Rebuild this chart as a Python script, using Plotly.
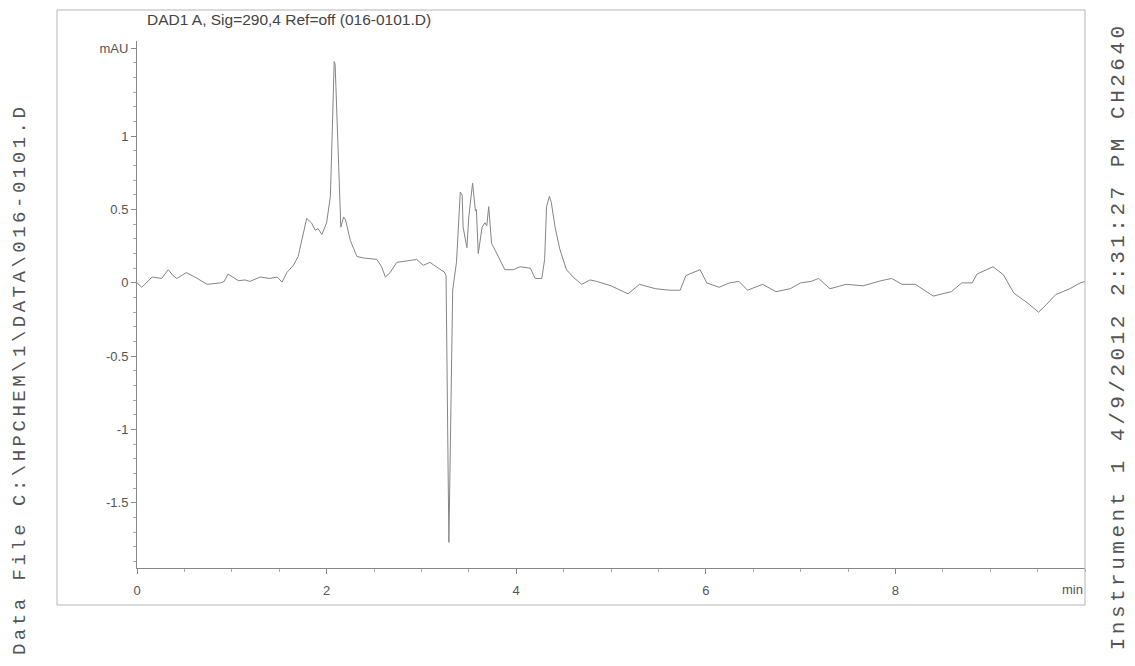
import plotly.graph_objects as go

# Retention time (min) and signal (mAU)
time_min = [0.00, 0.05, 0.16, 0.26, 0.33, 0.38, 0.42, 0.52, 0.61, 0.74, 0.88, 0.92, 0.96, 1.01,
            1.07, 1.14, 1.19, 1.30, 1.40, 1.48, 1.53, 1.58, 1.65, 1.70, 1.74, 1.79, 1.84, 1.88,
            1.91, 1.95, 2.00, 2.04, 2.06, 2.08, 2.09, 2.11, 2.13, 2.15, 2.18, 2.20, 2.25, 2.32,
            2.39, 2.53, 2.58, 2.62, 2.67, 2.74, 2.85, 2.95, 3.02, 3.09, 3.18, 3.24, 3.26, 3.29,
            3.33, 3.37, 3.41, 3.43, 3.44, 3.48, 3.50, 3.54, 3.57, 3.58, 3.60, 3.64, 3.67, 3.69,
            3.71, 3.74, 3.78, 3.83, 3.88, 3.97, 4.04, 4.15, 4.20, 4.27, 4.30, 4.32, 4.35, 4.37,
            4.41, 4.46, 4.53, 4.60, 4.69, 4.78, 4.85, 5.00, 5.18, 5.30, 5.47, 5.62, 5.73, 5.79,
            5.94, 6.01, 6.14, 6.25, 6.35, 6.44, 6.60, 6.74, 6.89, 7.00, 7.11, 7.19, 7.31, 7.48,
            7.66, 7.85, 7.96, 8.07, 8.21, 8.40, 8.59, 8.70, 8.81, 8.86, 9.03, 9.14, 9.25, 9.40,
            9.51, 9.59, 9.69, 9.84, 9.95, 10.00]
signal_mau = [0.00, -0.03, 0.04, 0.03, 0.09, 0.05, 0.03, 0.07, 0.04, -0.01, 0.00, 0.01, 0.06, 0.04,
              0.015, 0.02, 0.01, 0.04, 0.03, 0.04, 0.005, 0.07, 0.12, 0.18, 0.29, 0.44, 0.41, 0.36,
              0.37, 0.33, 0.41, 0.59, 1.04, 1.51, 1.49, 1.09, 0.67, 0.38, 0.45, 0.43, 0.29, 0.18,
              0.17, 0.16, 0.11, 0.04, 0.07, 0.14, 0.15, 0.16, 0.12, 0.14, 0.10, 0.075, 0.05, -1.77,
              -0.05, 0.14, 0.62, 0.60, 0.38, 0.24, 0.45, 0.68, 0.49, 0.50, 0.20, 0.38, 0.41, 0.39,
              0.52, 0.27, 0.22, 0.16, 0.09, 0.09, 0.11, 0.10, 0.03, 0.03, 0.16, 0.52, 0.59, 0.55,
              0.38, 0.23, 0.09, 0.04, -0.01, 0.02, 0.01, -0.02, -0.075, -0.01, -0.04, -0.05, -0.05, 0.05,
              0.09, 0.00, -0.03, 0.00, 0.01, -0.05, -0.01, -0.06, -0.04, 0.00, 0.01, 0.03, -0.04, -0.01,
              -0.02, 0.015, 0.03, -0.01, -0.01, -0.09, -0.06, 0.00, 0.00, 0.06, 0.11, 0.055, -0.07, -0.14,
              -0.20, -0.15, -0.08, -0.04, 0.00, 0.01]

y_tick_vals = [-1.5, -1.0, -0.5, 0.0, 0.5, 1.0, 1.6]
y_tick_text = ["-1.5", "-1", "-0.5", "0", "0.5", "1", "mAU"]
x_tick_vals = [0, 2, 4, 6, 8]
x_tick_text = ["0", "2", "4", "6", "8"]

title_text = "DAD1 A, Sig=290,4 Ref=off (016-0101.D)"
left_text = "Data File C:\\HPCHEM\\1\\DATA\\016-0101.D"
right_text = "Instrument 1 4/9/2012 2:31:27 PM CH2640"

sans = "Liberation Sans, Arial, sans-serif"
mono = "Liberation Mono, Courier New, monospace"

fig = go.Figure()
fig.add_trace(go.Scatter(x=time_min, y=signal_mau, mode="lines",
                         line=dict(color="#858585", width=1), showlegend=False,
                         hoverinfo="x+y"))

fig.update_layout(
    width=1127, height=650,
    margin=dict(l=129, r=50, t=33, b=90),
    paper_bgcolor="white", plot_bgcolor="white",
    font=dict(family=sans, size=13, color="#555555"),
    xaxis=dict(range=[0, 10], tickvals=x_tick_vals, ticktext=x_tick_text,
               showgrid=False, zeroline=False, showline=True, linecolor="#888888", linewidth=1,
               ticks="outside", ticklen=5, tickcolor="#888888", ticklabelstandoff=5,
               minor=dict(dtick=0.5, tick0=0, ticks="outside", ticklen=3, tickcolor="#aaaaaa"),
               tickfont=dict(family=sans, size=13, color="#555555")),
    yaxis=dict(range=[-1.945, 1.65], tickvals=y_tick_vals, ticktext=y_tick_text,
               showgrid=False, zeroline=False, showline=True, linecolor="#888888", linewidth=1,
               ticks="outside", ticklen=5, tickcolor="#888888",
               minor=dict(dtick=0.1, tick0=0, ticks="outside", ticklen=3, tickcolor="#aaaaaa"),
               tickfont=dict(family=sans, size=13, color="#555555")),
)

# min label at the right end of the time axis
fig.add_annotation(x=10, y=-0.040, xref="x", yref="paper", text="min", showarrow=False,
                   xanchor="right", yanchor="middle", font=dict(family=sans, size=13, color="#555555"))
# title
fig.add_annotation(x=0.008, y=1.040, xref="paper", yref="paper", text=title_text, showarrow=False,
                   xanchor="left", yanchor="middle", font=dict(family=sans, size=15.5, color="#444444"))
# side texts
fig.add_annotation(x=-0.1234, y=0.3567, xref="paper", yref="paper",
                   text='<span style="letter-spacing:3.5px">' + left_text + '</span>',
                   showarrow=False, textangle=-90, xanchor="center", yanchor="middle",
                   font=dict(family=mono, size=19, color="#555555"))
fig.add_annotation(x=1.035, y=0.440, xref="paper", yref="paper",
                   text='<span style="letter-spacing:3.5px">' + right_text + '</span>',
                   showarrow=False, textangle=-90, xanchor="center", yanchor="middle",
                   font=dict(family=mono, size=21, color="#555555"))

# outer frame
fx0, fx1 = (57 - 137) / 948, (1085 - 137) / 948
fy0, fy1 = (568 - 605) / 527, (568 - 10) / 527
for (a, b, c, d) in [(fx0, fy1, fx1, fy1), (fx0, fy0, fx1, fy0), (fx0, fy0, fx0, fy1), (fx1, fy0, fx1, fy1)]:
    fig.add_shape(type="line", xref="paper", yref="paper", x0=a, y0=b, x1=c, y1=d,
                  line=dict(color="#b5b5b5", width=1))

fig.write_html("out.html")
